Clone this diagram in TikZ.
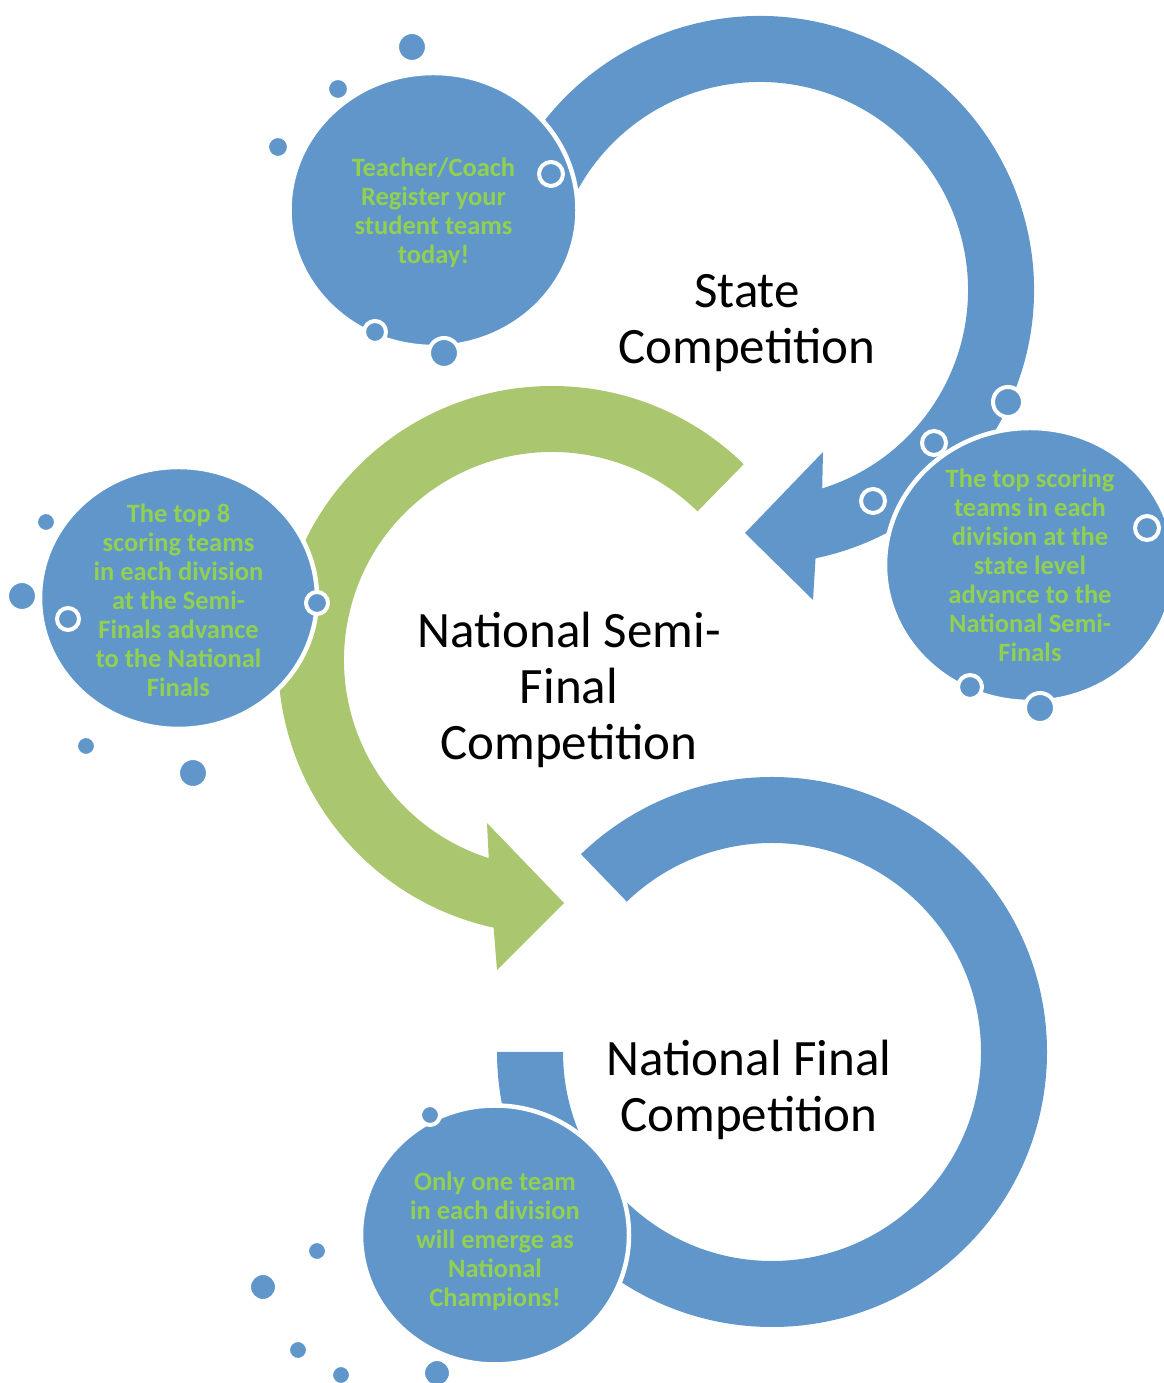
\documentclass[tikz,border=0pt]{standalone}
\usepackage{fontspec}
\setmainfont{Carlito}
\usetikzlibrary{shapes.geometric}
\definecolor{stageblue}{HTML}{6096CA}
\definecolor{stagegreen}{HTML}{AAC66E}
\definecolor{notegreen}{HTML}{92D050}
\tikzset{bubble/.style={ellipse,fill=stageblue,draw=white,line width=4.5pt,inner sep=0pt},
         note/.style={align=center,text=notegreen,font=\bfseries\fontsize{26.5}{29}\selectfont},
         stage/.style={align=center,font=\fontsize{51}{56}\selectfont},
         dot/.style={circle,fill=stageblue,draw=white,line width=4pt,inner sep=0pt}}

\begin{document}
\begin{tikzpicture}[x=1pt,y=1pt]
\useasboundingbox (0,0) rectangle (1163,1383);
% state round, turning clockwise, head to the left
\begin{scope}[shift={(760,1093)}]
\fill[stageblue] (160:274) arc[start angle=160,end angle=-78.3,radius=274] -- (53,-310) -- (-15,-243) -- (63,-162)
  -- (-72.6:208) arc[start angle=-72.6,end angle=160,radius=208] -- cycle;
\end{scope}
% semi-final round, turning the other way
\begin{scope}[shift={(552,723)}]
\fill[stagegreen] (45.6:274) arc[start angle=45.6,end angle=257.7,radius=274] -- (-55,-310) -- (12,-243) -- (-65,-163)
  -- (252.3:208) arc[start angle=252.3,end angle=45.6,radius=208] -- cycle;
\end{scope}
% final round, no head
\begin{scope}[shift={(772,331)}]
\fill[stageblue] (134:275) arc[start angle=134,end angle=-180,radius=275]
  -- (180:209) arc[start angle=-180,end angle=134,radius=209] -- cycle;
\end{scope}

\node[bubble,minimum width=288pt,minimum height=274pt] (coach) at (433.5,1173) {};
\node[bubble,minimum width=290pt,minimum height=274pt] (state) at (1030,818) {};
\node[bubble,minimum width=277pt,minimum height=262pt] (semi) at (178.5,785) {};
\node[bubble,minimum width=268pt,minimum height=259pt] (final) at (495,148) {};

% little bubbles round the four circles
\foreach \x/\y/\d [count=\i] in {412/1336/30, 338/1294/22, 278/1236/22, 551/1209/24, 375/1051/22, 444/1030/30,
    1008/981/30, 934/940/24, 873/882/24, 1147/855/24, 970/696/24, 1040/675/30,
    46/861/20, 22/787/30, 68/764/22, 317/780/22, 86/637/20, 193/610/30,
    430/268/20, 317/132/20, 263/96/28, 298/33/20, 341/8/20, 437/10/28}
  \node[dot,minimum size=\d pt] (dot\i) at (\x,\y) {};

\node[note,yshift=-3pt] (coachtext) at (coach) {Teacher/Coach\\Register your\\student teams\\today!};
\node[note] (statetext) at (state) {The top scoring\\teams in each\\division at the\\state level\\advance to the\\National Semi-\\Finals};
\node[note,yshift=-2pt] (semitext) at (semi) {The top 8\\scoring teams\\in each division\\at the Semi-\\Finals advance\\to the National\\Finals};
\node[note,yshift=-6pt] (finaltext) at (final) {Only one team\\in each division\\will emerge as\\National\\Champions!};

\node[stage] (statelabel) at (747,1060) {State\\Competition};
\node[stage] (semilabel) at (569,693) {National Semi-\\Final\\Competition};
\node[stage] (finallabel) at (749,293) {National Final\\Competition};
\end{tikzpicture}
\end{document}
